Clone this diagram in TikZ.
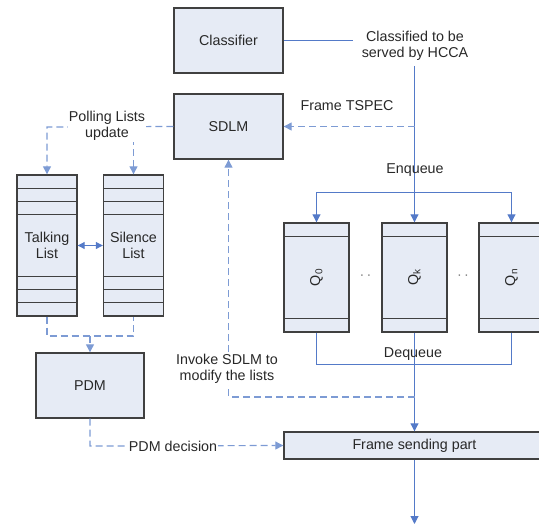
\documentclass[tikz,border=0pt]{standalone}
\usepackage{fontspec}
\setmainfont{Liberation Sans}
\usetikzlibrary{arrows.meta}
\definecolor{boxfill}{RGB}{230,235,245}
\definecolor{boxline}{RGB}{64,64,64}
\definecolor{solidblue}{RGB}{84,122,200}
\definecolor{dashblue}{RGB}{125,155,212}
\definecolor{txt}{RGB}{40,40,40}
\begin{document}
\begin{tikzpicture}[x=1pt,y=-1pt,
  font=\fontsize{14.3}{16.5}\selectfont, text=txt,
  box/.style={draw=boxline, line width=1.4pt, fill=boxfill, inner sep=0pt, align=center},
  bigbox/.style={box, minimum width=109pt, minimum height=65pt},
  listbox/.style={box, minimum width=60pt, minimum height=141pt},
  qbox/.style={box, minimum width=65pt, minimum height=109pt},
  inner/.style={draw=boxline, line width=1.4pt},
  conn/.style={draw=solidblue, line width=1pt},
  dconn/.style={draw=dashblue, line width=1.2pt, dash pattern=on 7pt off 4pt},
  tip/.style={-{Triangle[width=8pt,length=8pt]}},
  dtip/.style={-{Triangle[width=8pt,length=8pt]}},
  lbl/.style={inner sep=1pt, align=center},
  wlbl/.style={lbl, fill=white},
]
\useasboundingbox (0,0) rectangle (539,525);
\clip (0,0) rectangle (539,525);

% boxes
\node[bigbox] (clf) at (228.5,40.5) {Classifier};
\node[bigbox] (sdlm) at (228.5,126.5) {SDLM};
\node[listbox] (talk) at (47,245.5) {Talking\\List};
\node[listbox] (sil) at (133.5,245.5) {Silence\\List};
\node[box, minimum width=108pt, minimum height=65pt] (pdm) at (90,385.5) {PDM};
\node[qbox] (q0) at (316.5,277.5) {};
\node[qbox] (qk) at (414.5,277.5) {};
\node[qbox] (qn) at (511.5,277.5) {};
\node[box, minimum width=261pt, minimum height=27pt] (fsp) at (414.5,445.5) {Frame sending part};

% list inner lines
\foreach \n in {talk,sil}{
  \foreach \d in {14,27,40}{
    \draw[inner] ([yshift=-\d pt]\n.north west) -- ([yshift=-\d pt]\n.north east);
    \draw[inner] ([yshift=\d pt]\n.south west) -- ([yshift=\d pt]\n.south east);
  }
}
% queue inner lines and labels
\foreach \n/\s in {q0/0,qk/k,qn/n}{
  \draw[inner] ([yshift=-14pt]\n.north west) -- ([yshift=-14pt]\n.north east);
  \draw[inner] ([yshift=14pt]\n.south west) -- ([yshift=14pt]\n.south east);
  \node[rotate=90, lbl] (lab\n) at (\n.center) {Q\textsubscript{\s}};
}
\node[lbl, text=gray] (dots1) at (365.5,277) {\textperiodcentered\,\textperiodcentered};
\node[lbl, text=gray] (dots2) at (463,277) {\textperiodcentered\,\textperiodcentered};

% classifier to queues
\coordinate (cend) at (353,40.5);
\coordinate (vtop) at (414.5,66);
\coordinate (ts) at (414.5,126.5);
\coordinate (enqL) at (316.5,192);
\coordinate (enqR) at (511.5,192);
\draw[conn] (clf.east) -- (cend);
\node[lbl] (cltext) at (415,46) {Classified to be\\served by HCCA};
\draw[conn, tip] (vtop) -- (qk.north);
\draw[conn] (enqL) -- (enqR);
\draw[conn, tip] (enqL) -- (q0.north);
\draw[conn, tip] (enqR) -- (qn.north);
\node[lbl] (enqtext) at (415,170) {Enqueue};

% Frame TSPEC
\draw[dconn, dtip] (ts) -- (sdlm.east);
\node[lbl] (tstext) at (347,106) {Frame TSPEC};

% dequeue
\coordinate (deqL) at (316.5,364);
\coordinate (deqR) at (511.5,364);
\draw[conn] (q0.south) -- (deqL) -- (deqR) -- (qn.south);
\draw[conn, tip] (qk.south) -- (fsp.north);
\node[lbl] (deqtext) at (413,354) {Dequeue};

% output
\coordinate (out) at (414.5,524);
\draw[conn, tip] (fsp.south) -- (out);

% invoke SDLM
\coordinate (inv) at (414.5,397);
\coordinate (invc) at (228.5,397);
\draw[dconn, dtip] (inv) -- (invc) -- (sdlm.south);
\node[wlbl] (invtext) at (227,369) {Invoke SDLM to\\modify the lists};

% polling lists update
\coordinate (p1) at (47,127);
\coordinate (p2) at (133.5,127);
\draw[dconn, dtip] (sdlm.west) -- (p1) -- (talk.north);
\draw[dconn, dtip] (p2) -- (sil.north);
\node[wlbl] (poltext) at (107,126) {Polling Lists\\update};

% talk <-> silence
\draw[conn, {Triangle[width=7pt,length=7pt]}-{Triangle[width=7pt,length=7pt]}] (talk.east) -- (sil.west);

% lists to PDM
\coordinate (b1) at (47,336);
\coordinate (b2) at (133.5,336);
\coordinate (bm) at (90,336);
\draw[dconn] (talk.south) -- (b1) -- (b2) -- (sil.south);
\draw[dconn, dtip] (bm) -- (pdm.north);

% PDM decision
\coordinate (pd) at (90,446);
\draw[dconn, dtip] (pdm.south) -- (pd) -- (fsp.west);
\node[wlbl] (pdtext) at (173,446) {PDM decision};
\end{tikzpicture}
\end{document}
